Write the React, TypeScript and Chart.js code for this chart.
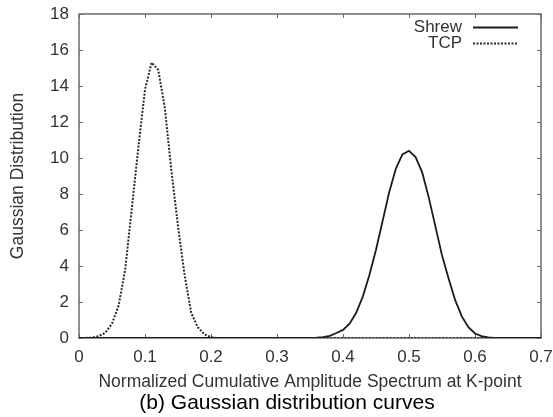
import React, { useEffect, useRef } from 'react';
import { Chart, registerables } from 'chart.js';

Chart.register(...registerables);

// ---- data ----
const shrewX = [0, 0.35, 0.36, 0.37, 0.38, 0.39, 0.4, 0.41, 0.42, 0.43, 0.44, 0.45, 0.46, 0.47, 0.48, 0.49, 0.5, 0.51, 0.52, 0.53, 0.54, 0.55, 0.56, 0.57, 0.58, 0.59, 0.6, 0.61, 0.62, 0.63, 0.64, 0.7];
const shrewY = [0, 0, 0.02, 0.05, 0.12, 0.28, 0.45, 0.8, 1.4, 2.3, 3.5, 4.9, 6.5, 8.1, 9.4, 10.2, 10.4, 10.05, 9.2, 7.8, 6.2, 4.6, 3.3, 2.1, 1.2, 0.6, 0.25, 0.1, 0.04, 0.01, 0, 0];

const tcpX = [0, 0.01, 0.02, 0.03, 0.04, 0.05, 0.06, 0.07, 0.08, 0.09, 0.1, 0.11, 0.12, 0.13, 0.14, 0.15, 0.16, 0.17, 0.18, 0.19, 0.2, 0.21, 0.7];
const tcpY = [0, 0, 0.02, 0.1, 0.3, 0.8, 1.8, 3.8, 7.2, 10.6, 13.8, 15.3, 14.9, 12.8, 9.3, 6.2, 3.5, 1.4, 0.6, 0.2, 0.05, 0, 0];

const seriesNames = ['Shrew', 'TCP'];
const xTitle = 'Normalized Cumulative Amplitude Spectrum at K-point';
const yTitle = 'Gaussian Distribution';
const caption = '(b) Gaussian distribution curves';

const X_MIN = 0, X_MAX = 0.7, X_STEP = 0.1;
const Y_MIN = 0, Y_MAX = 18, Y_STEP = 2;

const FONT = '"Liberation Sans", Arial, sans-serif';
const AXIS_GRAY = '#6a6a6a';
const TEXT_GRAY = '#333333';

const framePlugin = {
  id: 'frame',
  beforeDatasetsDraw(chart: any) {
    const { ctx, chartArea: a, scales } = chart;
    const xs = scales.x, ys = scales.y;
    ctx.save();
    ctx.strokeStyle = AXIS_GRAY;
    ctx.lineWidth = 1.5;
    ctx.strokeRect(a.left, a.top, a.right - a.left, a.bottom - a.top);
    ctx.lineWidth = 1;
    ctx.beginPath();
    const tl = 4;
    xs.ticks.forEach((t: any) => {
      const px = Math.round(xs.getPixelForValue(t.value)) + 0.5;
      ctx.moveTo(px, a.bottom); ctx.lineTo(px, a.bottom - tl);
      ctx.moveTo(px, a.top); ctx.lineTo(px, a.top + tl);
    });
    ys.ticks.forEach((t: any) => {
      const py = Math.round(ys.getPixelForValue(t.value)) + 0.5;
      ctx.moveTo(a.left, py); ctx.lineTo(a.left + tl, py);
      ctx.moveTo(a.right, py); ctx.lineTo(a.right - tl, py);
    });
    ctx.stroke();
    ctx.restore();
  },
  afterDraw(chart: any) {
    const { ctx, chartArea: a } = chart;
    ctx.save();
    // axis titles
    ctx.fillStyle = TEXT_GRAY;
    ctx.font = `17.5px ${FONT}`;
    ctx.textAlign = 'center';
    ctx.textBaseline = 'middle';
    ctx.fillText(xTitle, (a.left + a.right) / 2, 382);
    ctx.save();
    ctx.translate(18, (a.top + a.bottom) / 2);
    ctx.rotate(-Math.PI / 2);
    ctx.fillText(yTitle, 0, 0);
    ctx.restore();
    // caption
    ctx.fillStyle = '#000';
    ctx.font = `21px ${FONT}`;
    ctx.fillText(caption, 287, 403);
    // legend (gnuplot style)
    ctx.font = `17px ${FONT}`;
    ctx.textAlign = 'right';
    const rows = [27, 43];
    chart.data.datasets.forEach((ds: any, i: number) => {
      const y = rows[i];
      ctx.fillStyle = TEXT_GRAY;
      ctx.fillText(ds.label, 462, y);
      ctx.strokeStyle = ds.borderColor;
      ctx.lineWidth = ds.borderWidth;
      ctx.setLineDash(ds.borderDash || []);
      ctx.beginPath();
      ctx.moveTo(473, y + 0.5);
      ctx.lineTo(518, y + 0.5);
      ctx.stroke();
      ctx.setLineDash([]);
    });
    ctx.restore();
  },
};

export default function App() {
  const ref = useRef<HTMLCanvasElement>(null);
  useEffect(() => {
    document.body.style.margin = '0';
    const canvas = ref.current!;
    const chart = new Chart(canvas, {
      type: 'line',
      data: {
        datasets: [
          {
            label: seriesNames[0],
            data: shrewX.map((x, i) => ({ x, y: shrewY[i] })),
            borderColor: '#1c1c1c',
            borderWidth: 1.8,
            pointRadius: 0,
            tension: 0,
            fill: false,
          },
          {
            label: seriesNames[1],
            data: tcpX.map((x, i) => ({ x, y: tcpY[i] })),
            borderColor: '#2a2a2a',
            borderWidth: 2,
            borderDash: [2, 1.5],
            pointRadius: 0,
            tension: 0,
            fill: false,
          },
        ],
      },
      options: {
        responsive: false,
        animation: false,
        devicePixelRatio: 1,
        layout: { padding: { left: 0, right: 12, top: 14, bottom: 0 } },
        plugins: { legend: { display: false }, tooltip: { enabled: false } },
        scales: {
          x: {
            type: 'linear',
            min: X_MIN,
            max: X_MAX,
            grid: { display: false, drawTicks: false },
            border: { display: false },
            ticks: {
              stepSize: X_STEP,
              color: TEXT_GRAY,
              font: { size: 17, family: FONT },
              padding: 9,
              maxRotation: 0,
              callback: (v: any) => (Number(v) === 0 ? '0' : Number(v).toFixed(1)),
            },
            afterFit: (s: any) => {
              s.height = 79;
              s.paddingLeft = 0;
              s.paddingRight = 0;
            },
          },
          y: {
            min: Y_MIN,
            max: Y_MAX,
            grid: { display: false, drawTicks: false },
            border: { display: false },
            ticks: {
              stepSize: Y_STEP,
              color: TEXT_GRAY,
              font: { size: 17, family: FONT },
              padding: 10,
            },
            afterFit: (s: any) => {
              s.width = 79;
              s.paddingTop = 0;
              s.paddingBottom = 0;
            },
          },
        },
      },
      plugins: [framePlugin],
    });
    return () => chart.destroy();
  }, []);
  return (
    <div style={{ width: 553, height: 417, background: '#fff' }}>
      <canvas ref={ref} width={553} height={417} style={{ display: 'block' }} />
    </div>
  );
}
